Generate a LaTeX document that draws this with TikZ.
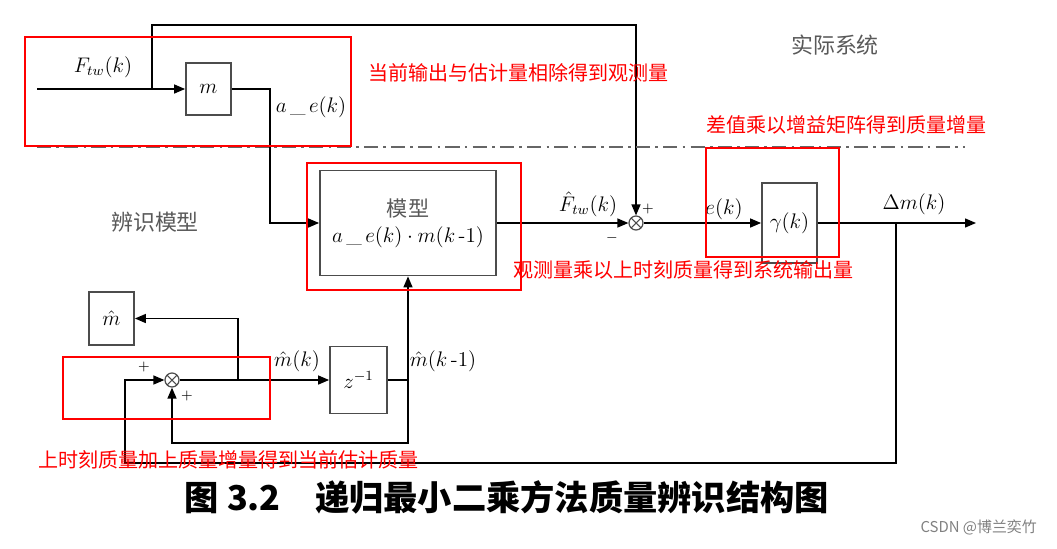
\documentclass[tikz,border=0pt]{standalone}
\usepackage{fontspec}
\newfontfamily\cjk{Noto Sans CJK SC}
\usetikzlibrary{arrows.meta}

\tikzset{
  blk/.style={draw=black!70, line width=1pt, fill=white, inner sep=0pt},
  sumnode/.style={draw=black!70, circle, line width=0.7pt, minimum size=14*0.02cm, inner sep=0pt,
    path picture={\draw[black!70, line width=0.6pt] (path picture bounding box.north west) -- (path picture bounding box.south east)
      (path picture bounding box.north east) -- (path picture bounding box.south west);}},
  arr/.style={line width=0.8pt, -{Triangle[length=2.2mm,width=1.8mm]}},
  wire/.style={line width=0.8pt},
  note/.style={red, font=\cjk\fontsize{11.4}{13}\selectfont, anchor=west, inner sep=0pt},
  redbox/.style={red, line width=1.2pt},
  sign/.style={font=\footnotesize, inner sep=0pt},
  grey/.style={black!65, font=\cjk\fontsize{12.5}{14}\selectfont},
  lbl/.style={font=\fontsize{12}{14}\selectfont, inner sep=1pt}
}

\begin{document}
\begin{tikzpicture}[x=0.02cm, y=-0.02cm]
    \useasboundingbox (0,0) rectangle (1057,548);

    % Blocks
    \node[blk, lbl, minimum width=45*0.02cm, minimum height=52*0.02cm] (m) at (208.5,89) {$m$};
    \node[blk, lbl, minimum width=176*0.02cm, minimum height=105*0.02cm, align=center] (model) at (408,223)
      {{\cjk\color{black!65}模型}\\[1pt] $a\,\_\,e(k)\cdot m(k\,\mbox{-}1)$};
    \node[sumnode] (sum1) at (636,223) {};
    \node[blk, lbl, minimum width=55*0.02cm, minimum height=80*0.02cm] (gamma) at (789.5,223) {$\gamma(k)$};
    \node[blk, lbl, minimum width=45*0.02cm, minimum height=53*0.02cm] (mhat) at (111.5,318.5) {$\hat m$};
    \node[sumnode] (sum2) at (172,380) {};
    \node[blk, lbl, minimum width=57*0.02cm, minimum height=67*0.02cm] (zinv) at (358.5,380) {$z^{-1}$};

    % Points on the wires
    \coordinate (in) at (37,89);
    \coordinate (b1) at (152,89);
    \coordinate (top) at (636,25);
    \coordinate (c1) at (270,89);
    \coordinate (out) at (976,223);
    \coordinate (b2) at (896,223);
    \coordinate (c2) at (125,463);
    \coordinate (b3) at (238,380);
    \coordinate (b4) at (408,380);
    \coordinate (c3) at (172,443);

    % Actual system
    \draw[arr] (in) -- (m.west);
    \draw[arr] (b1) |- (top) -- (sum1.north);
    \draw[arr] (m.east) -- (c1) |- (model.west);

    % Dash-dot separator
    \draw[black!60, line width=1.6pt, dash pattern=on 8pt off 3pt on 1.5pt off 3pt] (37,147) -- (965,147);

    % Identification model
    \draw[arr] (model.east) -- (sum1.west);
    \draw[arr] (sum1.east) -- (gamma.west);
    \draw[arr] (gamma.east) -- (out);
    \draw[arr] (b2) |- (c2) |- (sum2.west);
    \draw[arr] (sum2.east) -- (zinv.west);
    \draw[arr] (b3) |- (mhat.east);
    \draw[wire] (zinv.east) -- (b4);
    \draw[arr] (b4) -- (model.south);
    \draw[arr] (b4) |- (c3) -- (sum2.south);

    % Signal labels
    \node[lbl] at (103,67) {$F_{tw}(k)$};
    \node[lbl] at (311,107) {$a\,\_\,e(k)$};
    \node[lbl] at (588,204) {$\hat F_{tw}(k)$};
    \node[sign] at (648,209) {$+$};
    \node[sign] at (612,238) {$-$};
    \node[lbl] at (724,209) {$e(k)$};
    \node[lbl] at (914,204) {$\Delta m(k)$};
    \node[lbl] at (297,361) {$\hat m(k)$};
    \node[lbl] at (443,361) {$\hat m(k\,\mbox{-}1)$};
    \node[sign] at (144,367) {$+$};
    \node[sign] at (187,396) {$+$};
    \node[grey] at (155,222) {辨识模型};
    \node[grey] at (835,45) {实际系统};

    % Red annotations
    \draw[redbox] (25,37) rectangle (351,146);
    \draw[redbox] (307,163) rectangle (521,290);
    \draw[redbox] (706,148) rectangle (839,257);
    \draw[redbox] (63,357) rectangle (270,419);
    \node[note] at (368,73) {当前输出与估计量相除得到观测量};
    \node[note] at (706,125) {差值乘以增益矩阵得到质量增量};
    \node[note] at (513,270) {观测量乘以上时刻质量得到系统输出量};
    \node[note] at (38,460) {上时刻质量加上质量增量得到当前估计质量};

    % Caption
    \node[font=\cjk\bfseries\fontsize{19.5}{22}\selectfont] at (507,497) {图 3.2\quad 递归最小二乘方法质量辨识结构图};
    \node[black!50, font=\cjk\fontsize{8.5}{10}\selectfont, anchor=east] at (1043,527) {CSDN @博兰奕竹};
\end{tikzpicture}
\end{document}
